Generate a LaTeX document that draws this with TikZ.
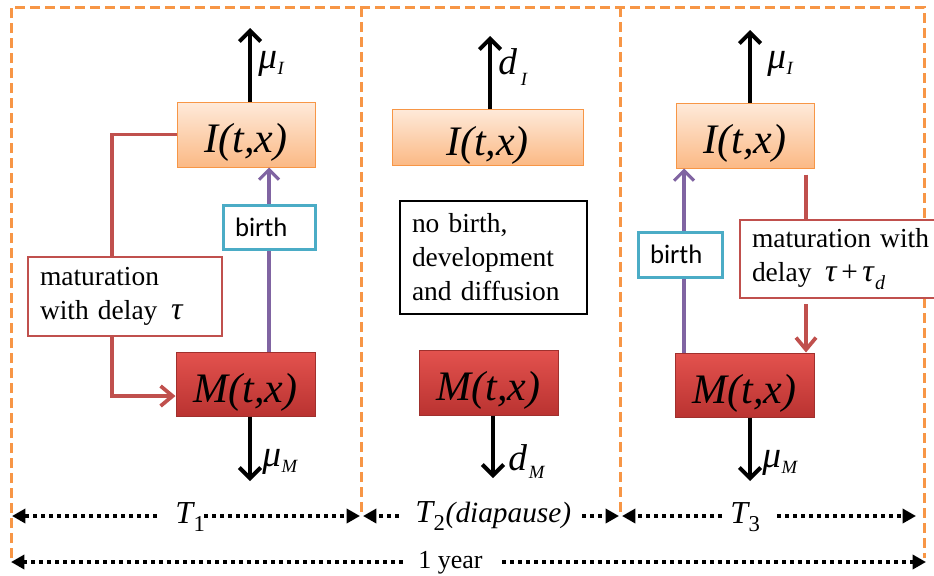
\documentclass[tikz,border=0pt]{standalone}
\usepackage{fontspec}
\setmainfont{Liberation Serif}
\newfontfamily\calib{Carlito}
\usetikzlibrary{arrows.meta}

\definecolor{frameorange}{HTML}{F79646}
\definecolor{ibtop}{HTML}{FEEADA}
\definecolor{ibbot}{HTML}{FBB985}
\definecolor{mbtop}{HTML}{E3524E}
\definecolor{mbbot}{HTML}{BA3331}
\definecolor{mbedge}{HTML}{A0302D}
\definecolor{matred}{HTML}{C0504D}
\definecolor{birthpurple}{HTML}{8064A2}
\definecolor{birthblue}{HTML}{4BACC6}

% rate label: symbol with a lowered subscript
\newcommand{\rateLbl}[4]{{\fontsize{28pt}{30pt}\selectfont\itshape #1}\kern#3\raisebox{-#4}{\fontsize{14pt}{16pt}\selectfont\itshape #2}}
% period label T_k
\newcommand{\perLbl}[2]{{\itshape T}\kern0.5pt\raisebox{-6.5pt}{\fontsize{17pt}{18pt}\selectfont #1}#2}

\begin{document}
\begin{tikzpicture}[x=0.75pt,y=-0.75pt,
  frame/.style={frameorange, line width=2.25pt, dash pattern=on 7.5pt off 3.75pt},
  popbox/.style={line width=0.75pt, inner sep=0pt, text height=29pt, text depth=2pt,
    font=\fontsize{31.5pt}{36pt}\selectfont\itshape},
  ibox/.style={popbox, draw=frameorange, top color=ibtop, bottom color=ibbot},
  mbox/.style={popbox, draw=mbedge, top color=mbtop, bottom color=mbbot},
  notebox/.style={fill=white, line width=2pt, align=left, inner xsep=9pt, inner ysep=0pt,
    font=\fontsize{20.6pt}{25.5pt}\selectfont},
  matbox/.style={notebox, draw=matred},
  birthbox/.style={fill=white, draw=birthblue, line width=2.25pt, align=left, inner xsep=9pt,
    inner ysep=0pt, font=\calib\fontsize{20pt}{24pt}\selectfont},
  blackarrow/.style={line width=3pt, -{Straight Barb[length=8pt,width=16pt]}},
  matline/.style={matred, line width=2.8pt},
  matarrow/.style={matline, -{Straight Barb[length=9pt,width=15pt]}},
  birtharrow/.style={birthpurple, line width=2.3pt, -{Straight Barb[length=7.5pt,width=15pt]}},
  dotarrow/.style={line width=3pt, dash pattern=on 3pt off 3pt, -{Triangle[length=10pt,width=10.5pt]}},
  ratelabel/.style={inner sep=0pt, anchor=base west},
  perlabel/.style={inner sep=0pt, anchor=base west, font=\fontsize{24pt}{26pt}\selectfont}
]
\useasboundingbox (0,0) rectangle (934,575);
\clip (0,0) rectangle (934,575);

% ---- season frames ----
\draw[frame] (11,558) -- (11,7) -- (924,7) -- (924,558);
\draw[frame] (361,7) -- (361,514);
\draw[frame] (620,7) -- (620,514);

% ---- helper coordinates for connector lines ----
\coordinate (matL) at (112,0);
\coordinate (matLy) at (0,396);
\coordinate (birthL) at (269,0);
\coordinate (birthR) at (684,0);
\coordinate (matR) at (806,0);

% ================= period T1 =================
\node[ibox, minimum width=103.5pt, minimum height=48.75pt] (I1) at (246,134.5) {I(t,x)};
\node[mbox, minimum width=104.25pt, minimum height=48pt] (M1) at (245.5,384) {M(t,x)};
\node[matbox, minimum width=145.5pt, minimum height=59.25pt, text width=127.5pt] (mat1) at (125,296.5)
  {maturation\\with delay \,{\fontsize{24pt}{25pt}\selectfont\itshape τ}};

\draw[matline] (I1.west) -| (matL |- mat1.north);
\draw[matarrow] (matL |- mat1.south) |- (M1.west |- matLy);
\draw[birtharrow] (birthL |- M1.north) -- (birthL |- I1.south);
\node[birthbox, minimum width=69pt, minimum height=33pt, text width=51pt] (b1) at (269,227) {birth};

\coordinate (uI1) at (250,28);
\coordinate (uM1) at (250,481);
\draw[blackarrow] (uI1 |- I1.north) -- (uI1);
\draw[blackarrow] (uM1 |- M1.south) -- (uM1);
\node[ratelabel] (lI1) at (258,68) {\rateLbl{μ}{I}{0.5pt}{4.5pt}};
\node[ratelabel] (lM1) at (262,466) {\rateLbl{μ}{M}{0.5pt}{5pt}};

% ================= period T2 (diapause) =================
\node[ibox, minimum width=143.25pt, minimum height=42pt] (I2) at (487.5,137) {I(t,x)};
\node[mbox, minimum width=104.25pt, minimum height=48.75pt] (M2) at (488.5,382.5) {M(t,x)};
\node[notebox, draw=black, minimum width=140.25pt, minimum height=84.75pt, text width=122.25pt] (nb) at (493.5,257.5)
  {no birth,\\development\\and diffusion};

\coordinate (dI2) at (490,36);
\coordinate (dM2) at (493,478);
\draw[blackarrow] (dI2 |- I2.north) -- (dI2);
\draw[blackarrow] (dM2 |- M2.south) -- (dM2);
\node[ratelabel] (lI2) at (498,74) {\rateLbl{d}{I}{3pt}{8.5pt}};
\node[ratelabel] (lM2) at (508,470) {\rateLbl{d}{M}{1.5pt}{6.5pt}};

% ================= period T3 =================
\node[ibox, minimum width=103.5pt, minimum height=48.75pt] (I3) at (745,135.5) {I(t,x)};
\node[mbox, minimum width=104.25pt, minimum height=48pt] (M3) at (744.5,385) {M(t,x)};
\node[matbox, minimum width=153.75pt, minimum height=58.5pt, text width=135.75pt] (mat3) at (842.5,259)
  {maturation with\\delay \,{\fontsize{24pt}{25pt}\selectfont\itshape τ}\,{\fontsize{22pt}{25pt}\selectfont +}\,{\fontsize{24pt}{25pt}\selectfont\itshape τ}\kern1pt\raisebox{-6pt}{\fontsize{15pt}{16pt}\selectfont\itshape d}};

\draw[birtharrow] (birthR |- M3.north) -- (birthR |- I3.south);
\node[birthbox, minimum width=63pt, minimum height=33.75pt, text width=45pt] (b3) at (680,254.5) {birth};
\draw[matline, shorten <=4.5pt] (matR |- I3.south) -- (matR |- mat3.north);
\draw[matarrow, shorten <=3.75pt] (matR |- mat3.south) -- (matR |- M3.north);

\coordinate (uI3) at (750,30);
\coordinate (uM3) at (750,481);
\draw[blackarrow] (uI3 |- I3.north) -- (uI3);
\draw[blackarrow] (uM3 |- M3.south) -- (uM3);
\node[ratelabel] (lI3) at (767,68) {\rateLbl{μ}{I}{0.5pt}{4.5pt}};
\node[ratelabel] (lM3) at (762,467) {\rateLbl{μ}{M}{0.5pt}{5pt}};

% ================= time axis =================
\node[perlabel] (T1lab) at (175,523) {\perLbl{1}{}};
\coordinate (t1a) at (157,516); \coordinate (t1L) at (12,516);
\coordinate (t1b) at (204,516); \coordinate (t1R) at (360,516);
\draw[dotarrow] (t1a) -- (t1L);
\draw[dotarrow] (t1b) -- (t1R);

\node[perlabel] (T2lab) at (415,522) {\perLbl{2}{\kern0.5pt{\fontsize{22pt}{24pt}\selectfont\itshape(diapause)}}};
\coordinate (t2a) at (399,516); \coordinate (t2L) at (363,516);
\coordinate (t2b) at (582,516); \coordinate (t2R) at (619,516);
\draw[dotarrow] (t2a) -- (t2L);
\draw[dotarrow] (t2b) -- (t2R);

\node[perlabel] (T3lab) at (730,523) {\perLbl{3}{}};
\coordinate (t3a) at (722,516); \coordinate (t3L) at (622,516);
\coordinate (t3b) at (777,516); \coordinate (t3R) at (916,516);
\draw[dotarrow] (t3a) -- (t3L);
\draw[dotarrow] (t3b) -- (t3R);

\node[inner sep=0pt, anchor=base west, font=\fontsize{19.5pt}{22pt}\selectfont] (year) at (418,568) {1 year};
\coordinate (ya) at (403,562); \coordinate (yL) at (11,562);
\coordinate (yb) at (502,562); \coordinate (yR) at (926,562);
\draw[dotarrow] (ya) -- (yL);
\draw[dotarrow] (yb) -- (yR);
\end{tikzpicture}
\end{document}
